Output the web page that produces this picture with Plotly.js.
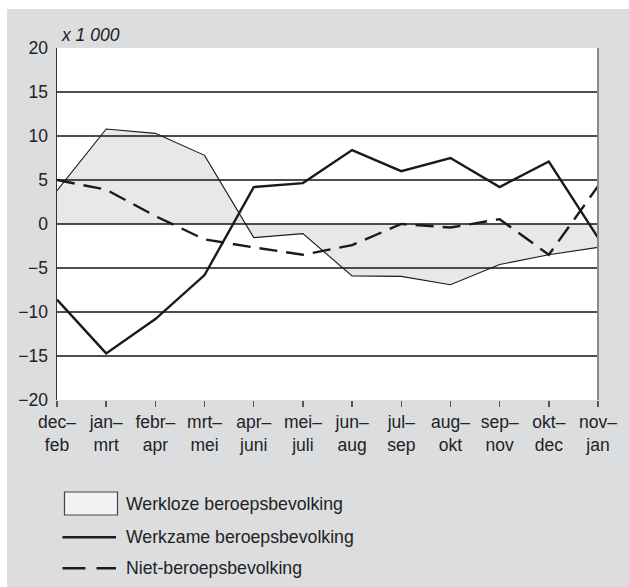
<!DOCTYPE html>
<html>
<head>
<meta charset="utf-8">
<script src="https://cdn.plot.ly/plotly-3.0.1.min.js"></script>
<style>
  html, body { margin: 0; padding: 0; background: #ffffff; width: 629px; height: 587px; overflow: hidden; }
  #chart { position: absolute; left: 7px; top: 9px; width: 622px; height: 578px; }
</style>
</head>
<body>
<div id="chart"></div>
<script>
// ---- data ----
const categories = ['dec-feb','jan-mrt','febr-apr','mrt-mei','apr-juni','mei-juli','jun-aug','jul-sep','aug-okt','sep-nov','okt-dec','nov-jan'];
const tickLabels = ['dec–<br>feb','jan–<br>mrt','febr–<br>apr','mrt–<br>mei','apr–<br>juni','mei–<br>juli','jun–<br>aug','jul–<br>sep','aug–<br>okt','sep–<br>nov','okt–<br>dec','nov–<br>jan'];
const werkloze = [3.8, 10.8, 10.3, 7.8, -1.55, -1.1, -5.9, -5.95, -6.9, -4.6, -3.5, -2.65];
const werkzame = [-8.6, -14.7, -10.8, -5.8, 4.2, 4.65, 8.4, 6.0, 7.5, 4.2, 7.1, -1.55];
const nietBeroeps = [5.0, 3.9, 0.9, -1.75, -2.65, -3.5, -2.4, 0.0, -0.4, 0.55, -3.5, 4.3];
const seriesNames = ['Werkloze beroepsbevolking', 'Werkzame beroepsbevolking', 'Niet-beroepsbevolking'];
const yTicks = [-20, -15, -10, -5, 0, 5, 10, 15, 20];
const unitLabel = 'x 1 000';

const xIdx = categories.map((_, i) => i);
const FONT = 'Liberation Sans, Arial, Helvetica, sans-serif';
const FS = 17.5;
const FSL = 17.7;

// plot geometry inside the div (px)
const W = 622, H = 578;
const M = { l: 50, r: 31, t: 39, b: 187 };
const PW = W - M.l - M.r, PH = H - M.t - M.b;
// page pixel -> paper coords (div is offset 7,9 on the page)
const px = x => (x - 7 - M.l) / PW;
const py = y => (H - M.b - (y - 9)) / PH;

const traces = [
  { x: xIdx, y: werkloze, name: seriesNames[0], type: 'scatter', mode: 'lines',
    fill: 'tozeroy', fillcolor: 'rgba(40,45,60,0.11)',
    line: { color: '#1a1a1a', width: 1.1 }, showlegend: false },
  { x: xIdx, y: werkzame, name: seriesNames[1], type: 'scatter', mode: 'lines',
    line: { color: '#1a1a1a', width: 2.4 }, showlegend: false },
  { x: xIdx, y: nietBeroeps, name: seriesNames[2], type: 'scatter', mode: 'lines',
    line: { color: '#1a1a1a', width: 2.4, dash: '18px,9px' }, showlegend: false }
];

const legendRows = [503.5, 537.3, 568.3];
const shapes = [
  // right border of plot area
  { type: 'line', xref: 'paper', yref: 'paper', x0: 1, x1: 1, y0: 0, y1: 1,
    line: { color: '#8a8a8a', width: 2 } },
  // legend symbols
  { type: 'rect', xref: 'paper', yref: 'paper', x0: px(64.5), x1: px(117.5), y0: py(515), y1: py(492),
    fillcolor: '#f1f2f4', line: { color: '#444', width: 1.2 } },
  { type: 'line', xref: 'paper', yref: 'paper', x0: px(62.5), x1: px(116), y0: py(legendRows[1]), y1: py(legendRows[1]),
    line: { color: '#1a1a1a', width: 2.4 } },
  { type: 'line', xref: 'paper', yref: 'paper', x0: px(62.5), x1: px(116), y0: py(legendRows[2]), y1: py(legendRows[2]),
    line: { color: '#1a1a1a', width: 2.4, dash: '23px,11px' } }
];

const annotations = [
  { text: unitLabel, xref: 'paper', yref: 'paper', x: px(58.5), y: py(35), xanchor: 'left', yanchor: 'middle',
    showarrow: false, font: { family: FONT, size: FS, color: '#222', style: 'italic' } }
].concat(seriesNames.map((n, i) => ({
    text: n, xref: 'paper', yref: 'paper', x: px(124), y: py(legendRows[i]), xanchor: 'left', yanchor: 'middle',
    showarrow: false, font: { family: FONT, size: FSL, color: '#222' }
})));

const layout = {
  width: W, height: H,
  margin: M,
  paper_bgcolor: '#dcdddf',
  plot_bgcolor: '#ffffff',
  font: { family: FONT, size: FS, color: '#222' },
  showlegend: false,
  xaxis: {
    range: [0, 11], tickvals: xIdx, ticktext: tickLabels,
    showgrid: false, zeroline: false, showline: false,
    ticks: 'outside', ticklen: 6, tickwidth: 1.5, tickcolor: '#555',
    tickfont: { family: FONT, size: FS, color: '#222' }, fixedrange: true
  },
  yaxis: {
    range: [-20, 20], tickvals: yTicks,
    showgrid: true, gridcolor: '#4d4d4d', gridwidth: 1.5,
    zeroline: true, zerolinecolor: '#4d4d4d', zerolinewidth: 1.5,
    showline: true, linecolor: '#333', linewidth: 1.5,
    ticks: '', ticklabelstandoff: 4,
    tickfont: { family: FONT, size: FS, color: '#222' }, fixedrange: true
  },
  shapes: shapes,
  annotations: annotations
};

Plotly.newPlot('chart', traces, layout, { displayModeBar: false, staticPlot: true });
</script>
</body>
</html>
